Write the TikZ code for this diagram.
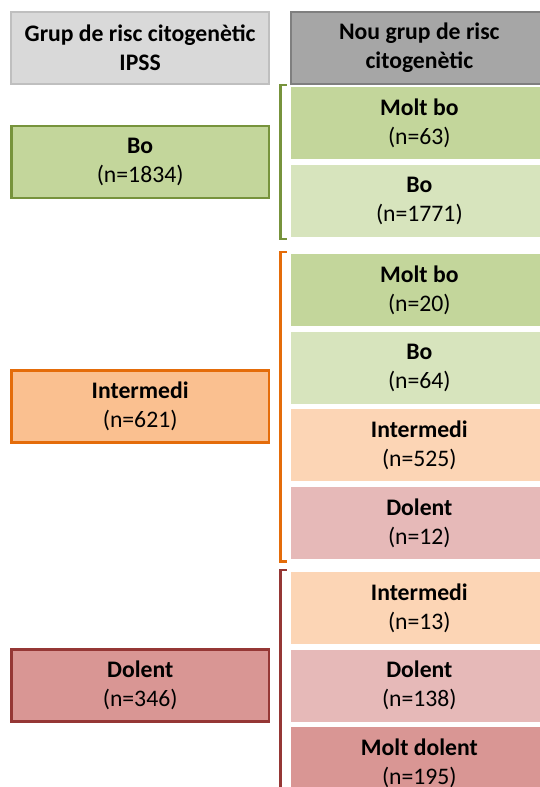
\documentclass[tikz,border=0pt]{standalone}
\usepackage{fontspec}
\setmainfont{Carlito}
\usetikzlibrary{calc}
\definecolor{hdrLfill}{HTML}{D9D9D9}
\definecolor{hdrLdraw}{HTML}{BFBFBF}
\definecolor{hdrRfill}{HTML}{A6A6A6}
\definecolor{hdrRdraw}{HTML}{7F7F7F}
\definecolor{grnD}{HTML}{C3D69B}
\definecolor{grnB}{HTML}{77933C}
\definecolor{grnL}{HTML}{D7E4BD}
\definecolor{orgD}{HTML}{FAC090}
\definecolor{orgB}{HTML}{E46C0A}
\definecolor{orgL}{HTML}{FCD5B5}
\definecolor{redD}{HTML}{D99694}
\definecolor{redB}{HTML}{953735}
\definecolor{redL}{HTML}{E6B9B8}
\tikzset{
  box/.style={rectangle, minimum width=257.7pt, minimum height=72pt, inner sep=0pt,
    align=center, font=\fontsize{23.7}{29}\selectfont, text=black},
  leftbox/.style={box, line width=2.5pt},
  rightbox/.style={box},
  bracketline/.style={line width=2.5pt, line join=miter, line cap=butt},
}
\begin{document}
\begin{tikzpicture}[x=1pt,y=-1pt]
\useasboundingbox (0,0) rectangle (539,787);
% headers
\node[box, fill=hdrLfill, draw=hdrLdraw, line width=2pt] (hl) at (140.15,48) {\textbf{Grup de risc citogenètic}\\\textbf{IPSS}};
\node[box, fill=hdrRfill, draw=hdrRdraw, line width=2pt] (hr) at (419.35,48) {\textbf{Nou grup de risc}\\\textbf{citogenètic}};
% left column
\node[leftbox, fill=grnD, draw=grnB] (lbo) at (140.15,162.2) {\textbf{Bo}\\(n=1834)};
\node[leftbox, fill=orgD, draw=orgB] (lint) at (140.15,406.7) {\textbf{Intermedi}\\(n=621)};
\node[leftbox, fill=redD, draw=redB] (ldol) at (140.15,685.7) {\textbf{Dolent}\\(n=346)};
% right column group 1
\node[rightbox, fill=grnD] (r1a) at (419.35,123) {\textbf{Molt bo}\\(n=63)};
\node[rightbox, fill=grnL] (r1b) at (419.35,201) {\textbf{Bo}\\(n=1771)};
% group 2
\node[rightbox, fill=grnD] (r2a) at (419.35,290) {\textbf{Molt bo}\\(n=20)};
\node[rightbox, fill=grnL] (r2b) at (419.35,367.7) {\textbf{Bo}\\(n=64)};
\node[rightbox, fill=orgL] (r2c) at (419.35,445.4) {\textbf{Intermedi}\\(n=525)};
\node[rightbox, fill=redL] (r2d) at (419.35,523.1) {\textbf{Dolent}\\(n=12)};
% group 3
\node[rightbox, fill=orgL] (r3a) at (419.35,608) {\textbf{Intermedi}\\(n=13)};
\node[rightbox, fill=redL] (r3b) at (419.35,685.7) {\textbf{Dolent}\\(n=138)};
\node[rightbox, fill=redD] (r3c) at (419.35,763.4) {\textbf{Molt dolent}\\(n=195)};
% brackets
\draw[bracketline, draw=grnB] ($(r1a.north west)+(-3.5,-2)$) -| ($(r1b.south west)+(-10,2)$) -- ++(6.5,0);
\draw[bracketline, draw=orgB] ($(r2a.north west)+(-3.5,-2)$) -| ($(r2d.south west)+(-10,2)$) -- ++(6.5,0);
\draw[bracketline, draw=redB] ($(r3a.north west)+(-3.5,-2)$) -| ($(r3c.south west)+(-10,2)$) -- ++(6.5,0);
\end{tikzpicture}
\end{document}
